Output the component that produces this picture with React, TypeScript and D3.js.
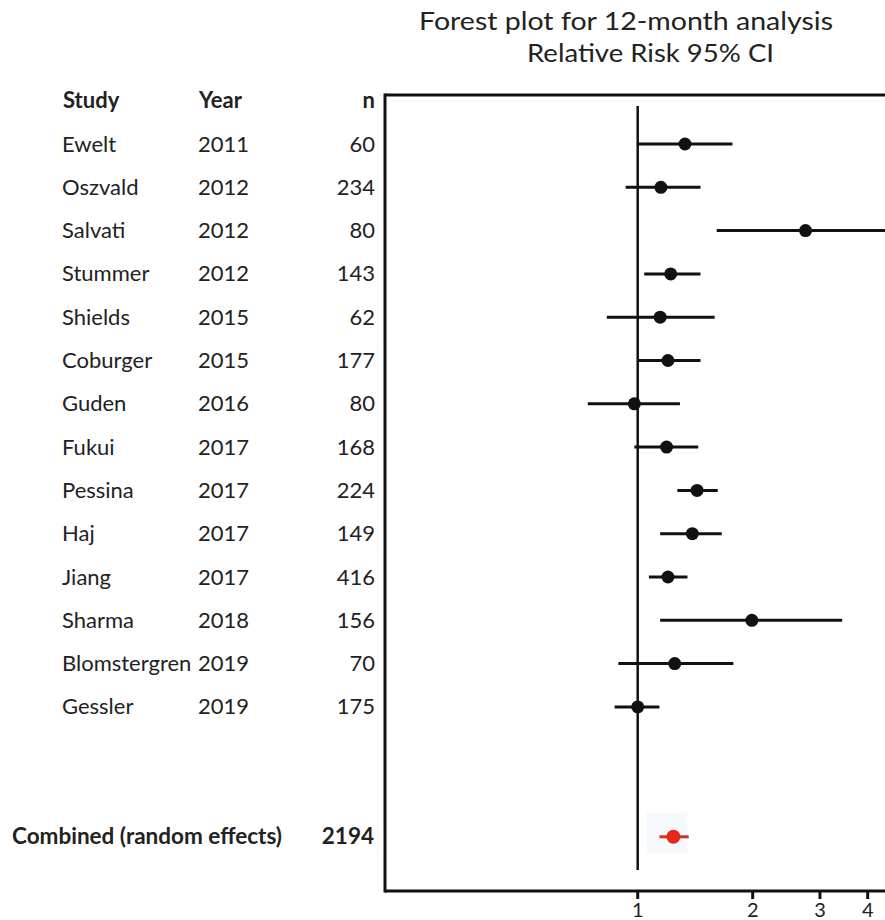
import React from "react";
import * as d3 from "d3";

// Study-level relative risks with 95% confidence intervals
const studies = [
  "Ewelt", "Oszvald", "Salvati", "Stummer", "Shields", "Coburger", "Guden",
  "Fukui", "Pessina", "Haj", "Jiang", "Sharma", "Blomstergren", "Gessler",
];
const years = [2011, 2012, 2012, 2012, 2015, 2015, 2016, 2017, 2017, 2017, 2017, 2018, 2019, 2019];
const sampleSizes = [60, 234, 80, 143, 62, 177, 80, 168, 224, 149, 416, 156, 70, 175];
const riskRatios = [1.33, 1.15, 2.75, 1.22, 1.145, 1.2, 0.98, 1.19, 1.43, 1.39, 1.2, 1.99, 1.25, 1.0];
const ciLower = [1.0, 0.93, 1.61, 1.04, 0.83, 1.0, 0.74, 0.98, 1.27, 1.145, 1.07, 1.145, 0.89, 0.87];
const ciUpper = [1.77, 1.46, 5.0, 1.46, 1.59, 1.46, 1.29, 1.44, 1.62, 1.66, 1.35, 3.43, 1.78, 1.14];

// Pooled estimate
const combinedLabel = "Combined (random effects)";
const combinedN = 2194;
const combinedRR = 1.24;
const combinedLower = 1.14;
const combinedUpper = 1.36;

const axisTicks = [1, 2, 3, 4];
const titleLines = ["Forest plot for 12-month analysis", "Relative Risk 95% CI"];

const W = 885;
const H = 920;
const plotLeft = 385;
const plotRight = 885;
const plotTop = 95;
const axisY = 891;
const firstRowY = 144;
const rowStep = 43.3;

const FONT = "Lato, 'Open Sans', sans-serif";
const TEXT = "#222";
const INK = "#111";

export default function App() {
  const x = d3.scaleLog().domain([0.218, 4.44]).range([plotLeft, plotRight]);
  const y = d3.scaleLinear().domain([0, 1]).range([firstRowY, firstRowY + rowStep]);

  const rows = studies.map((s, i) => ({
    study: s,
    year: years[i],
    n: sampleSizes[i],
    rr: riskRatios[i],
    lo: ciLower[i],
    hi: ciUpper[i],
    yy: y(i),
  }));
  const combinedY = y(16);
  const baselineShift = 7.5;

  return (
    <svg
      width={W}
      height={H}
      viewBox={`0 0 ${W} ${H}`}
      style={{ position: "absolute", left: 0, top: 0, display: "block", background: "#fff" }}
    >
      <defs>
        <clipPath id="plotClip">
          <rect x={plotLeft} y={plotTop} width={plotRight - plotLeft} height={axisY - plotTop} />
        </clipPath>
      </defs>

      {/* Title */}
      <text
        x={419}
        y={30}
        fontFamily={FONT}
        fontSize={25}
        fill={TEXT}
        textLength={414}
        lengthAdjust="spacingAndGlyphs"
      >
        {titleLines[0]}
      </text>
      <text
        x={527}
        y={62}
        fontFamily={FONT}
        fontSize={25}
        fill={TEXT}
        textLength={247}
        lengthAdjust="spacingAndGlyphs"
      >
        {titleLines[1]}
      </text>

      {/* Column headers */}
      <g fontFamily={FONT} fontSize={22} fontWeight={700} fill={TEXT}>
        <text x={63} y={y(-1) + baselineShift}>Study</text>
        <text x={199} y={y(-1) + baselineShift}>Year</text>
        <text x={375} y={y(-1) + baselineShift} textAnchor="end">n</text>
      </g>

      {/* Study rows */}
      <g fontFamily={FONT} fontSize={22} fill={TEXT}>
        {rows.map((r) => (
          <g key={r.study}>
            <text x={62} y={r.yy + baselineShift}>{r.study}</text>
            <text x={198} y={r.yy + baselineShift}>{r.year}</text>
            <text x={375} y={r.yy + baselineShift} textAnchor="end">{r.n}</text>
          </g>
        ))}
      </g>

      {/* Combined row */}
      <g fontFamily={FONT} fontSize={22.5} fontWeight={700} fill={TEXT}>
        <text x={12} y={combinedY + baselineShift}>{combinedLabel}</text>
        <text x={374} y={combinedY + baselineShift} textAnchor="end">{combinedN}</text>
      </g>

      {/* Plot frame */}
      <line x1={plotLeft} x2={plotLeft} y1={plotTop - 1.5} y2={axisY + 1.5} stroke={INK} strokeWidth={3} />
      <line x1={plotLeft} x2={plotRight} y1={plotTop} y2={plotTop} stroke={INK} strokeWidth={3} />
      <line x1={plotLeft} x2={plotRight} y1={axisY} y2={axisY} stroke={INK} strokeWidth={3} />

      {/* Line of no effect */}
      <line x1={x(1)} x2={x(1)} y1={106} y2={870} stroke={INK} strokeWidth={2.5} />

      {/* Confidence intervals and point estimates */}
      <g clipPath="url(#plotClip)">
        {rows.map((r) => (
          <g key={r.study}>
            <line x1={x(r.lo)} x2={x(r.hi)} y1={r.yy} y2={r.yy} stroke={INK} strokeWidth={3} />
            <circle cx={x(r.rr)} cy={r.yy} r={6.5} fill={INK} />
          </g>
        ))}
        <rect
          x={x(combinedRR) - 27}
          y={combinedY - 24}
          width={41}
          height={41}
          fill="#e6eef7"
          opacity={0.35}
        />
        <line
          x1={x(combinedLower)}
          x2={x(combinedUpper)}
          y1={combinedY}
          y2={combinedY}
          stroke="#c0392b"
          strokeWidth={3}
        />
        <circle cx={x(combinedRR)} cy={combinedY} r={7} fill="#e8271c" />
      </g>

      {/* X axis ticks */}
      {axisTicks.map((t) => (
        <g key={t}>
          <line x1={x(t)} x2={x(t)} y1={axisY} y2={axisY + 8} stroke={INK} strokeWidth={3} />
          <text x={x(t)} y={917} textAnchor="middle" fontFamily={FONT} fontSize={20} fill={TEXT}>
            {t}
          </text>
        </g>
      ))}
    </svg>
  );
}
